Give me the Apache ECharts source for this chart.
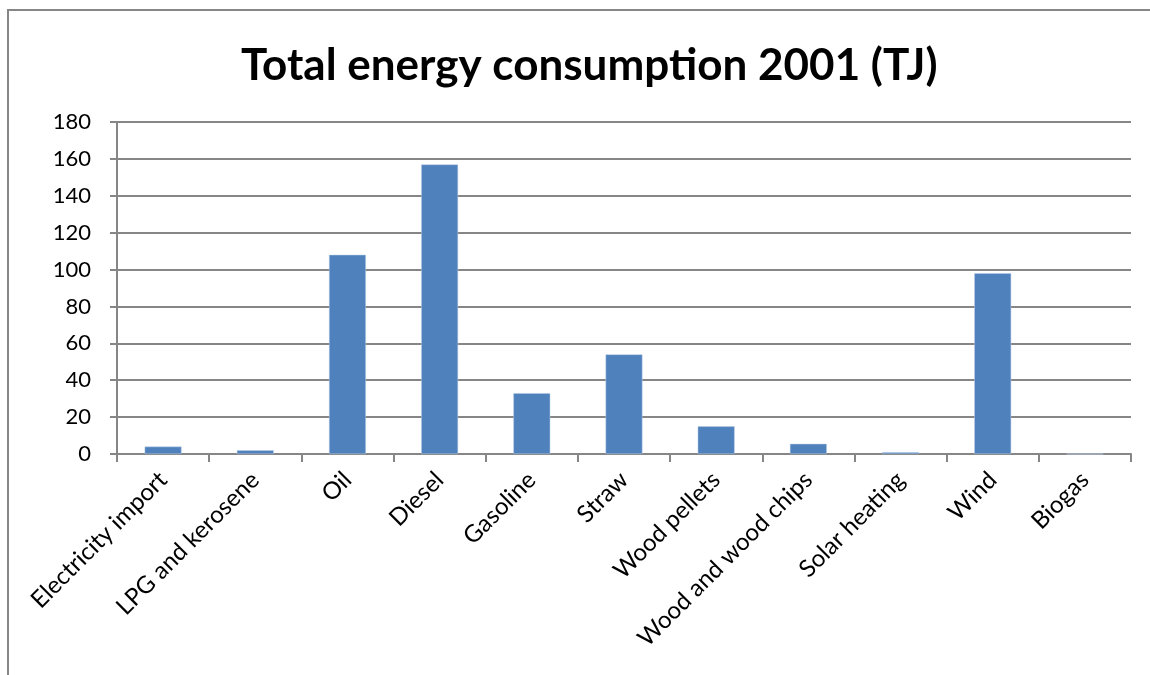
<!DOCTYPE html>
<html>
<head>
<meta charset="utf-8">
<script src="https://cdn.jsdelivr.net/npm/echarts@6/dist/echarts.min.js"></script>
<style>
  html, body { margin: 0; padding: 0; background: #ffffff; }
  #chart { width: 1150px; height: 675px; }
</style>
</head>
<body>
<div id="chart"></div>
<script>
// Energy sources and their 2001 consumption in terajoules
const categories = [
  'Electricity import', 'LPG and kerosene', 'Oil', 'Diesel', 'Gasoline',
  'Straw', 'Wood pellets', 'Wood and wood chips', 'Solar heating', 'Wind', 'Biogas'
];
const consumptionTJ = [4, 2, 108, 157, 33, 54, 15, 5.5, 1, 98, 0];
const yTicks = { min: 0, max: 180, interval: 20 };

const FONT = 'Lato, "Open Sans", sans-serif';
const GRAY = '#868686';

const chart = echarts.init(document.getElementById('chart'), null, { renderer: 'canvas' });
chart.setOption({
  animation: false,
  backgroundColor: '#ffffff',
  title: {
    text: 'Total energy consumption 2001 (TJ)',
    left: 236,
    top: 39,
    textStyle: { fontFamily: FONT, fontWeight: 'bold', fontSize: 44, color: '#000000' }
  },
  graphic: [{
    type: 'rect',
    shape: { x: 8, y: 10, width: 1200, height: 700 },
    style: { fill: 'none', stroke: GRAY, lineWidth: 2 },
    silent: true
  }],
  grid: { left: 117, right: 19, top: 122, bottom: 221, containLabel: false },
  xAxis: {
    type: 'category',
    data: categories,
    axisLine: { lineStyle: { color: GRAY, width: 2 } },
    axisTick: { show: true, length: 8, alignWithLabel: false, lineStyle: { color: GRAY, width: 2 } },
    axisLabel: { rotate: 45, interval: 0, margin: 22, fontFamily: FONT, fontSize: 24, color: '#000000' }
  },
  yAxis: {
    type: 'value',
    min: yTicks.min,
    max: yTicks.max,
    interval: yTicks.interval,
    axisLine: { show: true, lineStyle: { color: GRAY, width: 2 } },
    axisTick: { show: true, length: 7, lineStyle: { color: GRAY, width: 2 } },
    splitLine: { show: true, lineStyle: { color: GRAY, width: 2 } },
    axisLabel: { margin: 26, fontFamily: FONT, fontSize: 22, color: '#000000' }
  },
  series: [{
    type: 'bar',
    data: consumptionTJ,
    barWidth: '40%',
    itemStyle: { color: '#4f81bd', borderColor: '#b9cde5', borderWidth: 0.5 }
  }]
});
</script>
</body>
</html>
